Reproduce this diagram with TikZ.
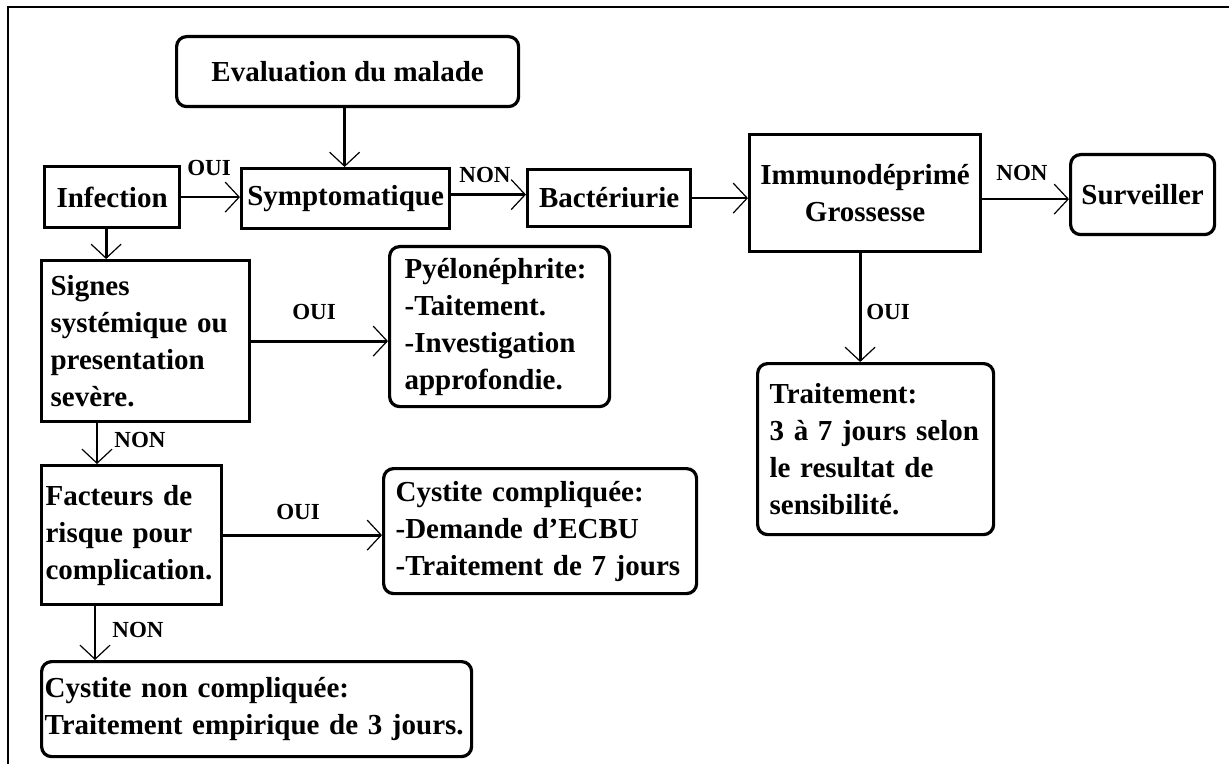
\documentclass[tikz,border=0pt]{standalone}
\usepackage{fontspec}
\setmainfont{Liberation Serif}
\usetikzlibrary{arrows.meta}
\tikzset{
  box/.style={draw, line width=1.6pt, inner ysep=0pt, anchor=north west,
    font=\bfseries\fontsize{14.5}{18.5}\selectfont},
  rbox/.style={box, rounded corners=5pt},
  arr/.style={line width=1.4pt, -{Straight Barb[length=7pt,width=15pt,line width=0.6pt]}},
  lab/.style={font=\bfseries\fontsize{11.5}{13}\selectfont, inner sep=0pt}
}
\begin{document}
\begin{tikzpicture}[x=0.5pt,y=-0.5pt]
\useasboundingbox[fill=white] (0,0) rectangle (1229,764);
\draw[line width=1pt] (8,764) -- (8,7) -- (1229,7);

% boxes
\node[rbox, minimum width=171pt, minimum height=35pt, inner xsep=0pt] (eval) at (175,35) {Evaluation du malade};
\node[box, minimum width=67.5pt, minimum height=30.5pt, inner xsep=0pt] (inf) at (43,165) {Infection};
\node[box, minimum width=104pt, minimum height=30pt, inner xsep=0pt] (symp) at (240,167) {Symptomatique};
\node[box, minimum width=81.5pt, minimum height=28.5pt, inner xsep=0pt] (bact) at (526,168) {Bactériurie};
\node[box, minimum width=115.5pt, minimum height=58.5pt, inner xsep=0pt, align=center] (immuno) at (748,133) {Immunodéprimé\\Grossesse};
\node[rbox, minimum width=72pt, minimum height=40pt, inner xsep=0pt] (surv) at (1069,153) {Surveiller};

\node[box, minimum width=104pt, minimum height=80.5pt, inner xsep=4.5pt, text width=95pt, align=left] (signes) at (40,259) {Signes\\systémique ou\\presentation\\sevère.};
\node[rbox, minimum width=110pt, minimum height=80pt, inner xsep=7.5pt, text width=95pt, align=left] (pyelo) at (388,245) {Pyélonéphrite:\\-Taitement.\\-Investigation\\approfondie.};
\node[box, minimum width=90pt, minimum height=69.5pt, inner xsep=2pt, text width=86pt, align=left] (fact) at (40,464) {Facteurs de\\risque pour\\complication.};
\node[rbox, minimum width=156.5pt, minimum height=62.5pt, inner xsep=6pt, text width=144.5pt, align=left] (cc) at (382,467) {Cystite compliquée:\\-Demande d'ECBU\\-Traitement de 7 jours};
\node[rbox, minimum width=215pt, minimum height=47.5pt, inner xsep=1.5pt, text width=212pt, align=left] (cnc) at (40,660) {Cystite non compliquée:\\Traitement empirique de 3 jours.};
\node[rbox, minimum width=118pt, minimum height=85.5pt, inner xsep=6pt, text width=106pt, align=left] (trait) at (756,362) {Traitement:\\3 à 7 jours selon\\le resultat de\\sensibilité.};

% connectors
\draw[arr] ([xshift=-1.5pt]eval.south) -- ([xshift=-1.5pt]eval.south |- symp.north);
\draw[arr] (inf.east) -- (inf.east -| symp.west);
\draw[arr] ([yshift=2pt]symp.east) -- ([yshift=2pt]symp.east -| bact.west);
\draw[arr] (bact.east) -- (bact.east -| immuno.west);
\draw[arr] ([yshift=-3pt]immuno.east) -- ([yshift=-3pt]immuno.east -| surv.west);
\draw[arr] ([xshift=-3pt]inf.south) -- ([xshift=-3pt]inf.south |- signes.north);
\draw[arr] (signes.east) -- (signes.east -| pyelo.west);
\draw[arr] ([xshift=28.5pt]signes.south west) -- ([xshift=28.5pt]signes.south west |- fact.north);
\draw[arr] (fact.east) -- (fact.east -| cc.west);
\draw[arr] ([xshift=27.5pt]fact.south west) -- ([xshift=27.5pt]fact.south west |- cnc.north);
\draw[arr] ([xshift=-2.5pt]immuno.south) -- ([xshift=-2.5pt]immuno.south |- trait.north);

% labels
\node[lab] (l1) at (209,168) {OUI};
\node[lab] (l2) at (485,175) {NON};
\node[lab] (l3) at (1022,173) {NON};
\node[lab] (l4) at (314,312) {OUI};
\node[lab] (l5) at (140,440) {NON};
\node[lab] (l6) at (298,512) {OUI};
\node[lab] (l7) at (138,630) {NON};
\node[lab] (l8) at (888,312) {OUI};
\end{tikzpicture}
\end{document}
